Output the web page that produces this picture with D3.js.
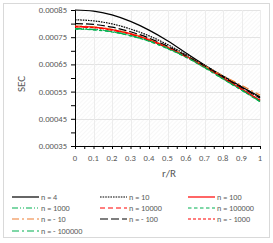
<!DOCTYPE html>
<html>
<head>
<meta charset="utf-8">
<script src="https://cdn.jsdelivr.net/npm/d3@7"></script>
<style>
  body { margin: 0; background: #fff; }
  text { font-family: Calibri, Carlito, "Liberation Sans", Arial, sans-serif; fill: #595959; }
</style>
</head>
<body>
<div id="chart"></div>
<script>
// r/R positions
const rValues = [0, 0.1, 0.2, 0.3, 0.4, 0.5, 0.6, 0.7, 0.8, 0.9, 1];

// SEC values
const secN4 = [0.000850, 0.000846, 0.000832, 0.000808, 0.000776, 0.000737, 0.000692, 0.000648, 0.000607, 0.000568, 0.000531];
const secN10 = [0.000814, 0.000810, 0.000799, 0.000780, 0.000755, 0.000723, 0.000686, 0.000647, 0.000607, 0.000568, 0.000528];
const secN100 = [0.000790, 0.000787, 0.000778, 0.000763, 0.000741, 0.000713, 0.000680, 0.000642, 0.000601, 0.000560, 0.000518];
const secN1000 = [0.000782, 0.000779, 0.000771, 0.000757, 0.000737, 0.000710, 0.000678, 0.000640, 0.000598, 0.000557, 0.000515];
const secN10000 = [0.000788, 0.000785, 0.000776, 0.000761, 0.000739, 0.000711, 0.000678, 0.000640, 0.000599, 0.000558, 0.000517];
const secN100000 = [0.000780, 0.000777, 0.000769, 0.000755, 0.000735, 0.000708, 0.000676, 0.000638, 0.000596, 0.000555, 0.000513];
const secNm10 = [0.000791, 0.000788, 0.000779, 0.000764, 0.000743, 0.000715, 0.000682, 0.000645, 0.000608, 0.000573, 0.000537];
const secNm100 = [0.000800, 0.000797, 0.000787, 0.000770, 0.000747, 0.000717, 0.000682, 0.000644, 0.000604, 0.000565, 0.000526];
const secNm1000 = [0.000789, 0.000786, 0.000777, 0.000762, 0.000740, 0.000712, 0.000679, 0.000641, 0.000600, 0.000559, 0.000518];
const secNm100000 = [0.000781, 0.000778, 0.000770, 0.000756, 0.000736, 0.000709, 0.000677, 0.000639, 0.000597, 0.000556, 0.000514];

const seriesNames = ["n = 4", "n = 10", "n = 100", "n = 1000", "n = 10000", "n = 100000",
    "n = - 10", "n = - 100", "n = - 1000", "n = - 100000"];
const seriesValues = [secN4, secN10, secN100, secN1000, secN10000, secN100000,
    secNm10, secNm100, secNm1000, secNm100000];

const yTickLabels = [0.00035, 0.00045, 0.00055, 0.00065, 0.00075, 0.00085];
const xTickLabels = [0, 0.1, 0.2, 0.3, 0.4, 0.5, 0.6, 0.7, 0.8, 0.9, 1];

// line styles per series
const styles = [
    {color: "#000000", dash: null},
    {color: "#000000", dash: "1.6,1"},
    {color: "#ff0000", dash: null},
    {color: "#00b050", dash: "6,2,1,2,1,2"},
    {color: "#ff0000", dash: "5,3"},
    {color: "#00b050", dash: "3.5,2.5"},
    {color: "#ed7d31", dash: "7,3,2,3"},
    {color: "#000000", dash: "8,3"},
    {color: "#ff0000", dash: "3,2"},
    {color: "#00b050", dash: "7,3,2,3"}
];

const W = 273, H = 243;
const plot = {left: 75, right: 260, top: 10, bottom: 146};

const svg = d3.select("#chart").append("svg")
    .attr("width", W)
    .attr("height", H);

// outer chart border
svg.append("rect")
    .attr("x", 3.5).attr("y", 3.5)
    .attr("width", 266).attr("height", 234)
    .attr("fill", "#fff")
    .attr("stroke", "#d9d9d9");

// faint hatch inside plot area
const defs = svg.append("defs");
defs.append("pattern")
    .attr("id", "hatch")
    .attr("patternUnits", "userSpaceOnUse")
    .attr("width", 3).attr("height", 3)
    .attr("patternTransform", "rotate(45)")
    .append("line")
    .attr("x1", 0).attr("y1", 0).attr("x2", 0).attr("y2", 3)
    .attr("stroke", "#efefef")
    .attr("stroke-width", 1);

const x = d3.scaleLinear().domain([0, 1]).range([plot.left, plot.right]);
const y = d3.scaleLinear().domain([0.00035, 0.00085]).range([plot.bottom, plot.top]);

svg.append("rect")
    .attr("x", plot.left).attr("y", plot.top)
    .attr("width", plot.right - plot.left).attr("height", plot.bottom - plot.top)
    .attr("fill", "url(#hatch)");

// gridlines
svg.append("g")
    .selectAll("line")
    .data(yTickLabels.slice(1))
    .enter().append("line")
    .attr("x1", plot.left).attr("x2", plot.right)
    .attr("y1", d => Math.round(y(d)) + 0.5).attr("y2", d => Math.round(y(d)) + 0.5)
    .attr("stroke", "#e3e3e3");

svg.append("g")
    .selectAll("line")
    .data(xTickLabels.slice(1))
    .enter().append("line")
    .attr("y1", plot.top).attr("y2", plot.bottom)
    .attr("x1", d => Math.round(x(d)) + 0.5).attr("x2", d => Math.round(x(d)) + 0.5)
    .attr("stroke", "#ececec");

// axes
const xAxis = svg.append("g")
    .attr("transform", `translate(0,${plot.bottom})`)
    .call(d3.axisBottom(x).tickValues(d3.range(0, 1.0001, 0.05)).tickSize(3).tickFormat(""));
const yAxis = svg.append("g")
    .attr("transform", `translate(${plot.left},0)`)
    .call(d3.axisLeft(y).tickValues(d3.range(0.00035, 0.000851, 0.00005)).tickSize(4).tickFormat(""));
[xAxis, yAxis].forEach(a => {
    a.selectAll("path, line").attr("stroke", "#000").attr("stroke-width", 1);
});

svg.append("g")
    .selectAll("text")
    .data(xTickLabels)
    .enter().append("text")
    .attr("x", d => x(d))
    .attr("y", 161)
    .attr("text-anchor", "middle")
    .attr("font-size", 8.6)
    .text(d => d);

svg.append("g")
    .selectAll("text")
    .data(yTickLabels)
    .enter().append("text")
    .attr("x", 67)
    .attr("y", d => y(d) + 3)
    .attr("text-anchor", "end")
    .attr("font-size", 8.6)
    .text(d => d.toFixed(5));

// axis titles
svg.append("text")
    .attr("transform", "translate(25,84) rotate(-90)")
    .attr("text-anchor", "middle")
    .attr("font-size", 11)
    .text("SEC");

svg.append("text")
    .attr("x", 169).attr("y", 177)
    .attr("text-anchor", "middle")
    .attr("font-size", 11)
    .text("r/R");

// series lines
const line = d3.line()
    .x((d, i) => x(rValues[i]))
    .y(d => y(d))
    .curve(d3.curveMonotoneX);

svg.append("g")
    .selectAll("path")
    .data(seriesValues)
    .enter().append("path")
    .attr("d", line)
    .attr("fill", "none")
    .attr("stroke", (d, i) => styles[i].color)
    .attr("stroke-width", 1.2)
    .attr("stroke-dasharray", (d, i) => styles[i].dash);

// legend, three columns
const colX = [12, 100, 188];
const rowY = [197, 208, 219, 231];

const legend = svg.append("g")
    .selectAll("g")
    .data(seriesNames)
    .enter().append("g")
    .attr("transform", (d, i) => `translate(${colX[i % 3]},${rowY[Math.floor(i / 3)]})`);

legend.append("line")
    .attr("x1", 0).attr("x2", 27)
    .attr("y1", 0).attr("y2", 0)
    .attr("stroke", (d, i) => styles[i].color)
    .attr("stroke-width", 1.2)
    .attr("stroke-dasharray", (d, i) => styles[i].dash);

legend.append("text")
    .attr("x", 29)
    .attr("y", 3)
    .attr("font-size", 8.2)
    .text(d => d);
</script>
</body>
</html>
